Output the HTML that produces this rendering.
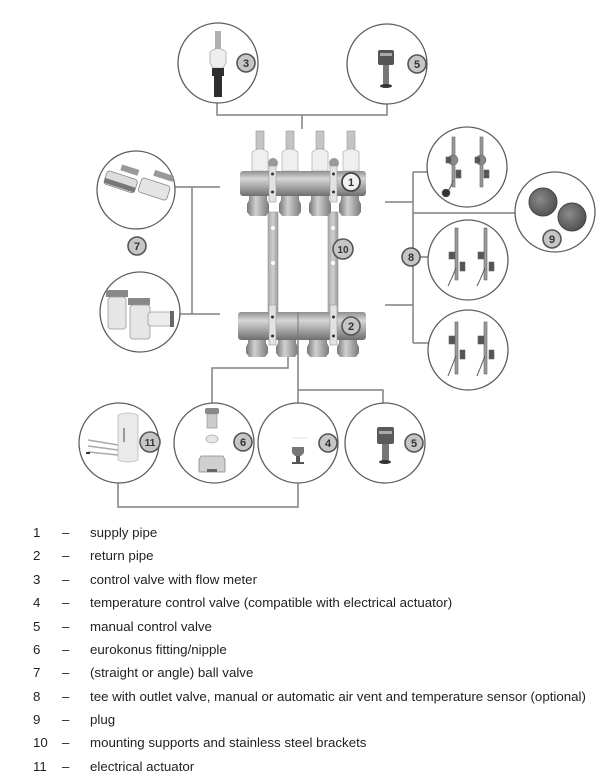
<!DOCTYPE html>
<html><head><meta charset="utf-8">
<style>
html,body{margin:0;padding:0;background:#fff;}
body{width:603px;height:781px;overflow:hidden;}
svg{display:block;}
.c{fill:#fff;stroke:#5e5e5e;stroke-width:1.3;}
.ln{fill:none;stroke:#808080;stroke-width:1.5;}
.lb{fill:#c6c6c6;stroke:#555;stroke-width:1.6;}
.lt{font-family:"Liberation Sans",Arial,sans-serif;font-weight:bold;font-size:11px;fill:#333;text-anchor:middle;}
.lg{font-family:"Liberation Sans",Arial,sans-serif;font-size:13.3px;fill:#222;}
</style></head><body>
<svg width="603" height="781" viewBox="0 0 603 781" xmlns="http://www.w3.org/2000/svg">
<defs>
<linearGradient id="bar" x1="0" y1="0" x2="0" y2="1">
<stop offset="0" stop-color="#8e8e8e"/><stop offset="0.3" stop-color="#d6d6d6"/><stop offset="0.65" stop-color="#a4a4a4"/><stop offset="1" stop-color="#6e6e6e"/>
</linearGradient>
<linearGradient id="nut" x1="0" y1="0" x2="1" y2="0">
<stop offset="0" stop-color="#777"/><stop offset="0.4" stop-color="#d0d0d0"/><stop offset="1" stop-color="#7a7a7a"/>
</linearGradient>
<linearGradient id="strip" x1="0" y1="0" x2="1" y2="0">
<stop offset="0" stop-color="#a8a8a8"/><stop offset="0.5" stop-color="#cfcfcf"/><stop offset="1" stop-color="#9a9a9a"/>
</linearGradient>
<radialGradient id="plug" cx="0.4" cy="0.4" r="0.7">
<stop offset="0" stop-color="#8a8a8a"/><stop offset="1" stop-color="#4a4a4a"/>
</radialGradient>
</defs>

<!-- connectors -->
<path class="ln" d="M217,103 V115 H387 V104 M302,115 V129"/>
<path class="ln" d="M175,187 H220 M192,187 V314 M179,314 H220"/>
<path class="ln" d="M385,202 H413 M413,172 V343 M413,172 H427 M413,213 H516 M385,305 H413 M413,343 H429 M419,257 H428"/>
<path class="ln" d="M288,355 V368 H212 V403 M298,340 V403 M298,390 H383 V403 M118,483 V507 H298 V483"/>

<!-- brackets strips -->
<rect x="268" y="212" width="10" height="104" fill="url(#strip)" stroke="#9a9a9a" stroke-width="0.6"/>
<rect x="328" y="212" width="10" height="104" fill="url(#strip)" stroke="#9a9a9a" stroke-width="0.6"/>
<circle cx="273" cy="228" r="2" fill="#fff"/><circle cx="333" cy="228" r="2" fill="#fff"/>
<circle cx="273" cy="263" r="2" fill="#fff"/><circle cx="333" cy="263" r="2" fill="#fff"/>

<!-- top manifold valves -->
<g>
<rect x="256" y="131" width="8" height="18" fill="#c4c4c4" stroke="#999" stroke-width="0.6"/>
<rect x="286" y="131" width="8" height="18" fill="#c4c4c4" stroke="#999" stroke-width="0.6"/>
<rect x="316" y="131" width="8" height="18" fill="#c4c4c4" stroke="#999" stroke-width="0.6"/>
<rect x="347" y="131" width="8" height="18" fill="#c4c4c4" stroke="#999" stroke-width="0.6"/>
<path d="M252,152 q8,-6 16,0 v19 h-16z" fill="#efefef" stroke="#b5b5b5" stroke-width="0.8"/>
<path d="M282,152 q8,-6 16,0 v19 h-16z" fill="#efefef" stroke="#b5b5b5" stroke-width="0.8"/>
<path d="M312,152 q8,-6 16,0 v19 h-16z" fill="#efefef" stroke="#b5b5b5" stroke-width="0.8"/>
<path d="M343,152 q8,-6 16,0 v19 h-16z" fill="#efefef" stroke="#b5b5b5" stroke-width="0.8"/>
<circle cx="273" cy="163" r="5" fill="#999"/><circle cx="334" cy="163" r="5" fill="#999"/>
</g>
<!-- top manifold body -->
<rect x="240" y="171" width="126" height="25" rx="3" fill="url(#bar)"/>
<rect x="269" y="166" width="7" height="36" fill="#e2e2e2" stroke="#999" stroke-width="0.6"/>
<rect x="330" y="166" width="7" height="36" fill="#e2e2e2" stroke="#999" stroke-width="0.6"/>
<circle cx="272.5" cy="174" r="1.5" fill="#333"/><circle cx="272.5" cy="192" r="1.5" fill="#333"/>
<circle cx="333.5" cy="174" r="1.5" fill="#333"/><circle cx="333.5" cy="192" r="1.5" fill="#333"/>
<!-- top fittings -->
<path d="M249,196 h18 v4 l2,4 v8 l-3,4 h-16 l-3,-4 v-8 l2,-4z" fill="url(#nut)"/>
<path d="M281,196 h18 v4 l2,4 v8 l-3,4 h-16 l-3,-4 v-8 l2,-4z" fill="url(#nut)"/>
<path d="M311,196 h18 v4 l2,4 v8 l-3,4 h-16 l-3,-4 v-8 l2,-4z" fill="url(#nut)"/>
<path d="M341,196 h18 v4 l2,4 v8 l-3,4 h-16 l-3,-4 v-8 l2,-4z" fill="url(#nut)"/>

<!-- bottom manifold -->
<rect x="238" y="312" width="128" height="28" rx="3" fill="url(#bar)"/>
<line x1="298" y1="312" x2="298" y2="340" stroke="#777" stroke-width="1"/>
<rect x="269" y="305" width="7" height="40" fill="#e2e2e2" stroke="#999" stroke-width="0.6"/>
<rect x="330" y="305" width="7" height="40" fill="#e2e2e2" stroke="#999" stroke-width="0.6"/>
<circle cx="272.5" cy="317" r="1.5" fill="#333"/><circle cx="272.5" cy="336" r="1.5" fill="#333"/>
<circle cx="333.5" cy="317" r="1.5" fill="#333"/><circle cx="333.5" cy="336" r="1.5" fill="#333"/>
<path d="M248,340 h18 v3 l2,4 v6 l-3,4 h-16 l-3,-4 v-6 l2,-4z" fill="url(#nut)"/>
<path d="M278,340 h18 v3 l2,4 v6 l-3,4 h-16 l-3,-4 v-6 l2,-4z" fill="url(#nut)"/>
<path d="M309,340 h18 v3 l2,4 v6 l-3,4 h-16 l-3,-4 v-6 l2,-4z" fill="url(#nut)"/>
<path d="M339,340 h18 v3 l2,4 v6 l-3,4 h-16 l-3,-4 v-6 l2,-4z" fill="url(#nut)"/>

<!-- circles -->
<circle class="c" cx="218" cy="63" r="40"/>
<circle class="c" cx="387" cy="64" r="40"/>
<circle class="c" cx="136" cy="190" r="39"/>
<circle class="c" cx="140" cy="312" r="40"/>
<circle class="c" cx="467" cy="167" r="40"/>
<circle class="c" cx="468" cy="260" r="40"/>
<circle class="c" cx="468" cy="350" r="40"/>
<circle class="c" cx="555" cy="212" r="40"/>
<circle class="c" cx="119" cy="443" r="40"/>
<circle class="c" cx="214" cy="443" r="40"/>
<circle class="c" cx="298" cy="443" r="40"/>
<circle class="c" cx="385" cy="443" r="40"/>

<!-- circle 3 content -->
<rect x="215" y="31" width="6" height="18" fill="#b0b0b0"/>
<path d="M210,52 q8,-7 16,0 v11 l-3,5 h-10 l-3,-5z" fill="#eee" stroke="#aaa" stroke-width="0.8"/>
<path d="M212,68 h12 v8 h-2 v21 h-8 v-21 h-2z" fill="#2e2e2e"/>

<!-- circle 5 top content -->
<rect x="378" y="50" width="16" height="15" rx="2" fill="#555"/>
<rect x="380" y="53" width="12" height="3" fill="#aaa"/>
<rect x="383" y="65" width="6" height="20" fill="#777"/>
<ellipse cx="386" cy="86" rx="6" ry="2" fill="#333"/>

<!-- circle 7a content -->
<g transform="rotate(18 136 190)">
<rect x="103" y="180" width="32" height="14" rx="3" fill="#ddd" stroke="#888" stroke-width="0.8"/>
<rect x="138" y="176" width="30" height="15" rx="3" fill="#e4e4e4" stroke="#888" stroke-width="0.8"/>
<rect x="115" y="170" width="18" height="6" fill="#999"/>
<rect x="148" y="165" width="20" height="6" fill="#999"/>
<rect x="103" y="188" width="32" height="5" fill="#777"/>
</g>
<!-- circle 7b content -->
<rect x="106" y="290" width="22" height="7" fill="#888"/>
<rect x="128" y="298" width="22" height="7" fill="#888"/>
<rect x="108" y="297" width="18" height="32" rx="3" fill="#e6e6e6" stroke="#999" stroke-width="0.8"/>
<rect x="130" y="305" width="20" height="34" rx="3" fill="#e6e6e6" stroke="#999" stroke-width="0.8"/>
<rect x="148" y="312" width="25" height="14" rx="3" fill="#ececec" stroke="#999" stroke-width="0.8"/>
<rect x="170" y="311" width="4" height="16" fill="#666"/>

<!-- circle 8 contents -->
<g fill="#9a9a9a" stroke="#666" stroke-width="0.6">
<rect x="452" y="137" width="3" height="50"/><rect x="480" y="137" width="3" height="50"/>
<circle cx="453" cy="160" r="5" fill="#888"/><circle cx="481" cy="160" r="5" fill="#888"/>
<rect x="446" y="157" width="5" height="6" fill="#555"/><rect x="475" y="157" width="5" height="6" fill="#555"/>
<rect x="456" y="170" width="5" height="8" fill="#555"/><rect x="484" y="170" width="5" height="8" fill="#555"/>
<path d="M453,180 q-2,8 -6,12" fill="none" stroke="#555" stroke-width="1"/>
<circle cx="446" cy="193" r="4" fill="#333"/>

<rect x="455" y="228" width="3" height="52"/><rect x="484" y="228" width="3" height="52"/>
<rect x="449" y="252" width="6" height="7" fill="#555"/><rect x="478" y="252" width="6" height="7" fill="#555"/>
<rect x="460" y="262" width="5" height="9" fill="#555"/><rect x="489" y="262" width="5" height="9" fill="#555"/>
<path d="M456,268 q-4,10 -8,18 M485,268 q-4,10 -8,18" fill="none" stroke="#555" stroke-width="1"/>

<rect x="455" y="322" width="3" height="52"/><rect x="484" y="322" width="3" height="52"/>
<rect x="449" y="336" width="6" height="8" fill="#555"/><rect x="478" y="336" width="6" height="8" fill="#555"/>
<rect x="460" y="350" width="5" height="9" fill="#555"/><rect x="489" y="350" width="5" height="9" fill="#555"/>
<path d="M456,356 q-4,10 -8,20 M485,356 q-4,10 -8,20" fill="none" stroke="#555" stroke-width="1"/>
</g>

<!-- circle 9 plugs -->
<circle cx="543" cy="202" r="14" fill="url(#plug)" stroke="#444" stroke-width="1"/>
<circle cx="572" cy="217" r="14" fill="url(#plug)" stroke="#444" stroke-width="1"/>

<!-- circle 11 actuator -->
<path d="M118,415 q10,-4 20,0 v45 q-10,4 -20,0z" fill="#eaeaea" stroke="#bbb" stroke-width="0.8"/>
<rect x="123" y="428" width="2" height="14" fill="#999"/>
<path d="M88,440 L118,445 M88,446 L118,450 M88,452 L118,455" stroke="#aaa" stroke-width="1.5"/>
<rect x="86" y="452" width="4" height="2" fill="#333"/>

<!-- circle 6 -->
<rect x="205" y="408" width="14" height="6" rx="2" fill="#888"/>
<rect x="207" y="414" width="10" height="14" fill="#ccc" stroke="#888" stroke-width="0.6"/>
<ellipse cx="212" cy="439" rx="6" ry="4" fill="#e6e6e6" stroke="#aaa" stroke-width="0.8"/>
<path d="M201,456 h22 l2,4 v12 h-26 v-12z" fill="#cfcfcf" stroke="#888" stroke-width="0.8"/>
<rect x="207" y="469" width="10" height="3" fill="#666"/>

<!-- circle 4 -->
<line x1="292" y1="438" x2="308" y2="438" stroke="#e0e0e0" stroke-width="1"/>
<path d="M292,447 h12 v6 l-3,3 h-6 l-3,-3z" fill="#777"/>
<rect x="296" y="456" width="4" height="6" fill="#555"/>
<path d="M292,463 h12" stroke="#555" stroke-width="2"/>

<!-- circle 5b -->
<rect x="377" y="427" width="17" height="17" rx="2" fill="#5a5a5a"/>
<rect x="379" y="431" width="13" height="3" fill="#aaa"/>
<rect x="382" y="444" width="7" height="17" fill="#777"/>
<ellipse cx="385" cy="462" rx="6" ry="2" fill="#333"/>

<!-- labels -->
<circle cx="351" cy="182" r="9" fill="#f2f2f2" stroke="#444" stroke-width="1.8"/><text class="lt" x="351" y="186">1</text>
<circle class="lb" cx="351" cy="326" r="9"/><text class="lt" x="351" y="330">2</text>
<circle class="lb" cx="246" cy="63" r="9"/><text class="lt" x="246" y="67">3</text>
<circle class="lb" cx="417" cy="64" r="9"/><text class="lt" x="417" y="68">5</text>
<circle class="lb" cx="137" cy="246" r="9"/><text class="lt" x="137" y="250">7</text>
<circle class="lb" cx="411" cy="257" r="9"/><text class="lt" x="411" y="261">8</text>
<circle class="lb" cx="552" cy="239" r="9"/><text class="lt" x="552" y="243">9</text>
<circle class="lb" cx="343" cy="249" r="10"/><text class="lt" x="343" y="253" style="font-size:10px">10</text>
<circle class="lb" cx="150" cy="442" r="10"/><text class="lt" x="150" y="446" style="font-size:10px">11</text>
<circle class="lb" cx="243" cy="442" r="9"/><text class="lt" x="243" y="446">6</text>
<circle class="lb" cx="328" cy="443" r="9"/><text class="lt" x="328" y="447">4</text>
<circle class="lb" cx="414" cy="443" r="9"/><text class="lt" x="414" y="447">5</text>

<!-- legend -->
<g class="lg">
<text x="33" y="537">1</text><text x="62" y="537">–</text><text x="90" y="537">supply pipe</text>
<text x="33" y="560">2</text><text x="62" y="560">–</text><text x="90" y="560">return pipe</text>
<text x="33" y="584">3</text><text x="62" y="584">–</text><text x="90" y="584">control valve with flow meter</text>
<text x="33" y="607">4</text><text x="62" y="607">–</text><text x="90" y="607">temperature control valve (compatible with electrical actuator)</text>
<text x="33" y="631">5</text><text x="62" y="631">–</text><text x="90" y="631">manual control valve</text>
<text x="33" y="654">6</text><text x="62" y="654">–</text><text x="90" y="654">eurokonus fitting/nipple</text>
<text x="33" y="677">7</text><text x="62" y="677">–</text><text x="90" y="677">(straight or angle) ball valve</text>
<text x="33" y="701">8</text><text x="62" y="701">–</text><text x="90" y="701">tee with outlet valve, manual or automatic air vent and temperature sensor (optional)</text>
<text x="33" y="724">9</text><text x="62" y="724">–</text><text x="90" y="724">plug</text>
<text x="33" y="747">10</text><text x="62" y="747">–</text><text x="90" y="747">mounting supports and stainless steel brackets</text>
<text x="33" y="771">11</text><text x="62" y="771">–</text><text x="90" y="771">electrical actuator</text>
</g>
</svg>
</body></html>
